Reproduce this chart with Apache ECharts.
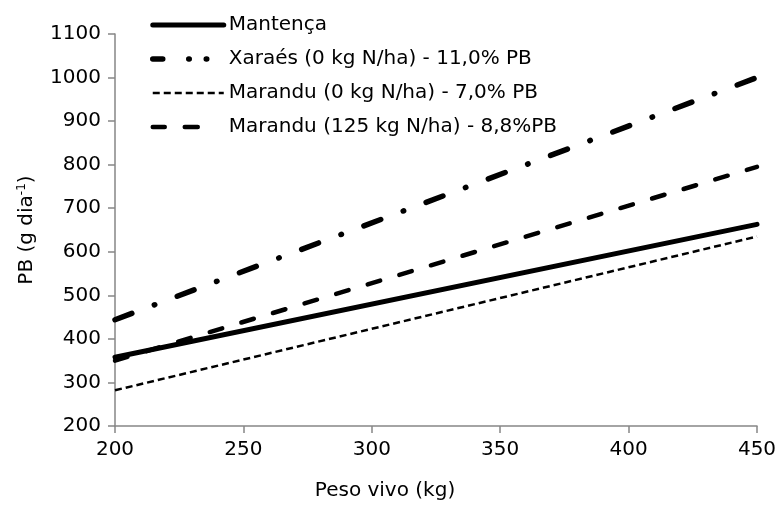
<!DOCTYPE html>
<html>
<head>
<meta charset="utf-8">
<script src="https://cdn.jsdelivr.net/npm/echarts@6/dist/echarts.min.js"></script>
<style>html,body{margin:0;padding:0;background:#fff}#c{width:781px;height:511px}</style>
</head>
<body>
<div id="c"></div>
<script>
const pesoVivo = [200, 450];
const mantenca = [358, 663];
const xaraes = [444, 1000];
const marandu0 = [282, 635];
const marandu125 = [350, 795];
const seriesNames = ['Mantença', 'Xaraés (0 kg N/ha) - 11,0% PB', 'Marandu (0 kg N/ha) - 7,0% PB', 'Marandu (125 kg N/ha) - 8,8%PB'];
const xTicks = [200, 250, 300, 350, 400, 450];
const yTicks = [200, 300, 400, 500, 600, 700, 800, 900, 1000, 1100];

const FONT = 'DejaVu Sans';
const styles = [
  {width: 5, type: 'solid', cap: 'round'},
  {width: 5.5, type: [18, 24, 0.5, 24], cap: 'round'},
  {width: 2.5, type: [7, 4], cap: 'butt'},
  {width: 4.5, type: [13, 20], cap: 'round'}
];
const legendStyles = [
  {width: 5, type: 'solid', cap: 'round'},
  {width: 5.5, type: [10, 26, 0.5, 17, 0.5, 30], cap: 'round'},
  {width: 2.5, type: [7, 4], cap: 'butt'},
  {width: 4.5, type: [12, 20, 13, 40], cap: 'round'}
];
const dataSets = [mantenca, xaraes, marandu0, marandu125];
const pair = a => pesoVivo.map((x, i) => [x, a[i]]);

const chart = echarts.init(document.getElementById('c'));
chart.setOption({
  animation: false,
  backgroundColor: '#fff',
  color: ['#000'],
  textStyle: {fontFamily: FONT},
  grid: {left: 115, right: 24, top: 34, bottom: 85},
  legend: {
    orient: 'vertical',
    left: 150,
    top: 15,
    padding: 0,
    itemWidth: 71,
    itemHeight: 14,
    itemGap: 14,
    textStyle: {fontFamily: FONT, fontSize: 20, color: '#000'},
    data: seriesNames.map((n, i) => ({
      name: n,
      itemStyle: {opacity: 0},
      lineStyle: Object.assign({color: '#000'}, legendStyles[i])
    }))
  },
  xAxis: {
    type: 'value', min: 200, max: 450, interval: 50,
    axisLine: {lineStyle: {color: '#868686', width: 1.5}},
    axisTick: {show: true, length: 7, lineStyle: {color: '#868686', width: 1.5}},
    axisLabel: {fontFamily: FONT, fontSize: 20, color: '#000', margin: 14, formatter: v => String(v)},
    splitLine: {show: false},
    name: 'Peso vivo (kg)', nameLocation: 'middle', nameGap: 55,
    nameTextStyle: {fontFamily: FONT, fontSize: 20, color: '#000', padding: [0, 102, 0, 0]}
  },
  yAxis: {
    type: 'value', min: 200, max: 1100, interval: 100,
    axisLine: {show: true, lineStyle: {color: '#868686', width: 1.5}},
    axisTick: {show: true, length: 7, lineStyle: {color: '#868686', width: 1.5}},
    axisLabel: {fontFamily: FONT, fontSize: 20, color: '#000', margin: 14, formatter: v => String(v)},
    splitLine: {show: false},
    name: 'PB (g dia{s|-1})', nameLocation: 'middle', nameGap: 77, nameRotate: 90,
    nameTextStyle: {fontFamily: FONT, fontSize: 20, color: '#000',
      rich: {s: {fontFamily: FONT, fontSize: 12, color: '#000', padding: [0, 0, 10, 0]}}}
  },
  series: seriesNames.map((n, i) => ({
    name: n, type: 'line', data: pair(dataSets[i]),
    showSymbol: false, symbol: 'none',
    itemStyle: {color: '#000'},
    lineStyle: Object.assign({color: '#000'}, styles[i]),
    z: 10 - i
  }))
});
</script>
</body>
</html>
